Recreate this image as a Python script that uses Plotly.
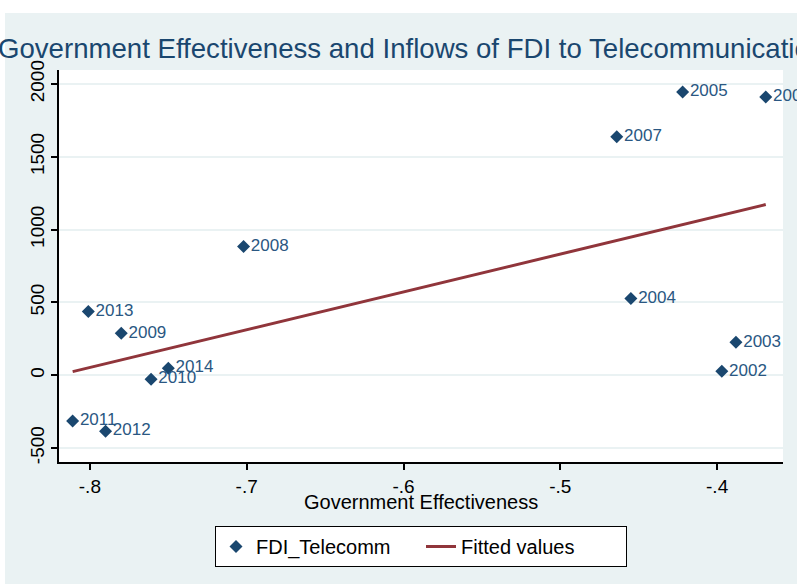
import numpy as np
import plotly.graph_objects as go

# Data
years = ["2002", "2003", "2004", "2005", "2006", "2007", "2008",
         "2009", "2010", "2011", "2012", "2013", "2014"]
gov_eff = [-0.397, -0.388, -0.455, -0.422, -0.369, -0.464, -0.702,
           -0.780, -0.761, -0.811, -0.790, -0.801, -0.750]
fdi_telecomm = [27, 226, 527, 1945, 1911, 1637, 884,
                288, -27, -315, -384, 438, 48]

x_tick_vals = [-0.8, -0.7, -0.6, -0.5, -0.4]
x_tick_text = ["-.8", "-.7", "-.6", "-.5", "-.4"]
y_tick_vals = [-500, 0, 500, 1000, 1500, 2000]
y_tick_text = ["-500", "0", "500", "1000", "1500", "2000"]

# Linear fit (Fitted values)
slope, intercept = np.polyfit(gov_eff, fdi_telecomm, 1)
fit_x = [min(gov_eff), max(gov_eff)]
fit_y = [slope * v + intercept for v in fit_x]

NAVY = "#1a476f"
MAROON = "#90353b"
BG = "#eaf2f3"
FONT = "Liberation Sans, Arial, sans-serif"

fig = go.Figure()
fig.add_trace(go.Scatter(
    x=gov_eff, y=fdi_telecomm, mode="markers+text", name="FDI_Telecomm",
    text=years, textposition="middle right",
    textfont=dict(family=FONT, size=17, color="#2a5782"),
    marker=dict(symbol="diamond", size=10, color=NAVY),
    cliponaxis=False,
))
fig.add_trace(go.Scatter(
    x=fit_x, y=fit_y, mode="lines", name="Fitted values",
    line=dict(color=MAROON, width=3),
))

W, H = 797, 584
L, R, T, B = 59, 14, 70, 122
pw, ph = W - L - R, H - T - B

def px2x(sx):
    return (sx - L) / pw

def py2y(sy):
    return (H - B - sy) / ph

shapes = [
    dict(type="rect", xref="paper", yref="paper", layer="below",
         x0=px2x(-2), x1=px2x(W + 2), y0=py2y(13), y1=py2y(-2),
         fillcolor="white", line=dict(width=0)),
    dict(type="rect", xref="paper", yref="paper", layer="below",
         x0=px2x(-2), x1=px2x(5), y0=py2y(H + 2), y1=py2y(-2),
         fillcolor="white", line=dict(width=0)),
]

annotations = [
    dict(text="Government Effectiveness and Inflows of FDI to Telecommunications",
         xref="paper", yref="paper", x=px2x(-4), y=py2y(49),
         xanchor="left", yanchor="middle", showarrow=False,
         font=dict(family=FONT, size=27.6, color=NAVY)),
    dict(text="Government Effectiveness",
         xref="paper", yref="paper", x=0.5, y=py2y(502),
         xanchor="center", yanchor="middle", showarrow=False,
         font=dict(family=FONT, size=20, color="black")),
]

fig.update_layout(
    width=W, height=H,
    margin=dict(l=L, r=R, t=T, b=B),
    paper_bgcolor=BG, plot_bgcolor="white",
    font=dict(family=FONT, color="black"),
    showlegend=True,
    legend=dict(
        orientation="h", x=0.5, xanchor="center", y=py2y(526), yanchor="top",
        bgcolor="white", bordercolor="black", borderwidth=1,
        font=dict(family=FONT, size=20, color="black"),
        entrywidth=160, entrywidthmode="pixels",
    ),
    shapes=shapes,
    annotations=annotations,
    xaxis=dict(
        range=[-0.8197, -0.358], tickvals=x_tick_vals, ticktext=x_tick_text,
        showgrid=False, zeroline=False,
        showline=True, linecolor="black", linewidth=1.5,
        ticks="outside", ticklen=6, tickcolor="black", tickwidth=1.5,
        tickfont=dict(family=FONT, size=19, color="black"),
    ),
    yaxis=dict(
        range=[-596, 2096], tickvals=y_tick_vals, ticktext=y_tick_text,
        showgrid=True, gridcolor=BG, gridwidth=1.5, zeroline=False,
        showline=True, linecolor="black", linewidth=1.5,
        ticks="outside", ticklen=6, tickcolor="black", tickwidth=1.5,
        tickangle=-90,
        tickfont=dict(family=FONT, size=19, color="black"),
    ),
)

# Remove the page's default body margin so the figure fills the window.
fig.write_html(
    "out.html",
    config={"displayModeBar": False},
    post_script="document.body.style.margin='0px';"
                "document.documentElement.style.overflow='hidden';",
)
